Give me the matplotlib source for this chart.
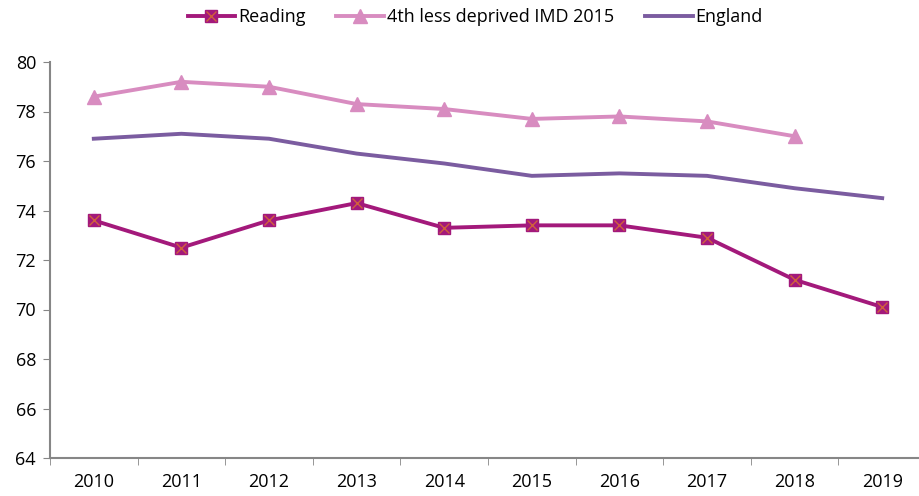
import numpy as np
import matplotlib.pyplot as plt
from matplotlib.legend_handler import HandlerTuple

plt.rcParams['font.family'] = ['Open Sans', 'DejaVu Sans']
plt.rcParams.update({'font.size': 13})

years = ['2010', '2011', '2012', '2013', '2014', '2015', '2016', '2017', '2018', '2019']
reading = [73.6, 72.5, 73.6, 74.3, 73.3, 73.4, 73.4, 72.9, 71.2, 70.1]
imd4 = [78.6, 79.2, 79.0, 78.3, 78.1, 77.7, 77.8, 77.6, 77.0]
england = [76.9, 77.1, 76.9, 76.3, 75.9, 75.4, 75.5, 75.4, 74.9, 74.5]

c_read = '#A3197B'
c_imd = '#D88CC0'
c_eng = '#7B5CA0'
grey = '#868686'

fig = plt.figure(figsize=(9.19, 4.96), dpi=100)
ax = fig.add_axes([50/919, 1-458/496, (919-50)/919, (458-62)/496])

x = np.arange(len(years))
l1, = ax.plot(x, reading, color=c_read, lw=2.8, marker='s', ms=8,
              mfc=c_read, mec=c_read, zorder=3)
l1x, = ax.plot(x, reading, ls='', marker='x', ms=6.5, mew=1.0, color='#D0603C', zorder=4)
l2, = ax.plot(x[:len(imd4)], imd4, color=c_imd, lw=2.8, marker='^', ms=9.5,
              mfc=c_imd, mec=c_imd, zorder=2)
l3, = ax.plot(x, england, color=c_eng, lw=2.8, zorder=2)

ax.set_ylim(64, 80)
ax.set_yticks(np.arange(64, 81, 2))
ax.set_xlim(-0.5, 9.42)
ax.set_xticks(x)
ax.set_xticklabels(years)
ax.set_xticks(np.arange(-0.5, 9.5, 1), minor=True)
ax.tick_params(axis='x', which='major', length=0, pad=11)
ax.tick_params(axis='x', which='minor', length=5, color=grey, direction='out')
ax.tick_params(axis='y', length=5, color=grey, direction='out', pad=5)

for s in ['top', 'right']:
    ax.spines[s].set_visible(False)
for s in ['left', 'bottom']:
    ax.spines[s].set_color(grey)
    ax.spines[s].set_linewidth(1.5)

ax.legend([(l1, l1x), l2, l3], ['Reading', '4th less deprived IMD 2015', 'England'],
          handler_map={tuple: HandlerTuple(ndivide=1, pad=0)},
          loc='center', bbox_to_anchor=(475/919, 1-17/496), bbox_transform=fig.transFigure,
          ncol=3, frameon=False, fontsize=13, handlelength=2.65, columnspacing=1.7,
          handletextpad=0.15)

fig.savefig('out.png', dpi=100)
